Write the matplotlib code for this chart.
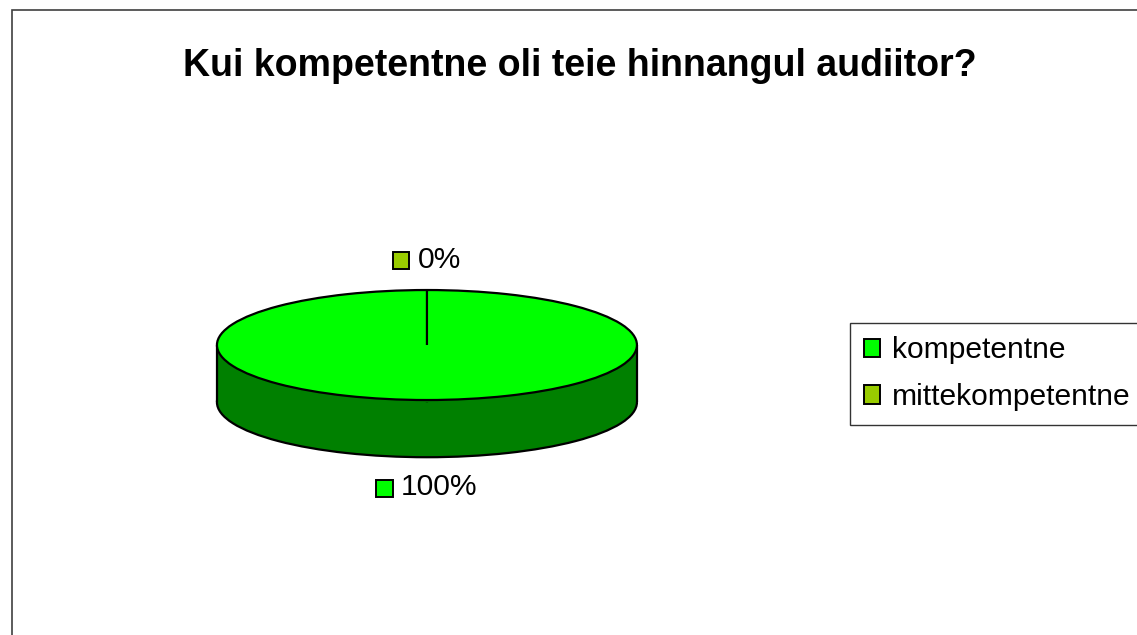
import matplotlib.pyplot as plt
from matplotlib.patches import Rectangle, Patch
from matplotlib.offsetbox import AnnotationBbox, HPacker, TextArea, DrawingArea
import numpy as np

plt.rcParams['font.family'] = ['Liberation Sans', 'DejaVu Sans']

# data
categories = ['kompetentne', 'mittekompetentne']
shares = [100, 0]
top_colors = ['#00FF00', '#99CC00']
side_colors = ['#008000', '#4D6600']
title = 'Kui kompetentne oli teie hinnangul audiitor?'

depth = 1.04   # thickness of the 3D pie in y units
fs = 21.6

fig = plt.figure(figsize=(11.37, 6.35), dpi=100)
ax = fig.add_axes([0.080, 0.1102, 0.591, 0.6063])

# chart area frame (runs off the right and bottom edges)
fig.patches.append(Rectangle((12 / 1137, -0.05), 1.2, 1 - 10 / 635 + 0.05,
                             transform=fig.transFigure, fill=False,
                             edgecolor='#404040', linewidth=1.2, zorder=0))

wp = dict(edgecolor='black', linewidth=1.6)
# bottom face
ax.pie(shares, colors=side_colors, startangle=90, counterclock=False,
       center=(0, -depth), radius=1, wedgeprops=wp)
# side band
ax.fill_between([-1, 1], -depth, 0, color=side_colors[0], zorder=3, linewidth=0)
ax.vlines([-1, 1], -depth, 0, colors='black', linewidth=1.6, zorder=3)
# top face
wedges, _ = ax.pie(shares, colors=top_colors, startangle=90, counterclock=False,
                   center=(0, 0), radius=1, wedgeprops=wp)
for w in wedges:
    w.set_zorder(4)

ax.set_aspect('auto')
ax.set_xlim(-1.6, 1.6)
ax.set_ylim(-4, 3)
ax.axis('off')

# data labels with colour keys
total = sum(shares)
ang = 90.0
for val, col in zip(shares, top_colors):
    span = 360.0 * val / total
    mid = np.deg2rad(ang - span / 2)
    ang -= span
    cy = 0 if np.sin(mid) >= 0 else -depth
    lx = 1.5 * np.cos(mid)
    ly = cy + 1.55 * np.sin(mid)
    da = DrawingArea(13, 13, 0, 0)
    da.add_artist(Rectangle((0, 0), 12, 12, facecolor=col, edgecolor='black', linewidth=1.4))
    ta = TextArea(f'{val:.0f}%', textprops=dict(fontsize=fs))
    box = HPacker(children=[da, ta], align='center', pad=0, sep=5)
    ab = AnnotationBbox(box, (lx, ly), frameon=False, box_alignment=(0.5, 0.5))
    ax.add_artist(ab)

fig.text(580 / 1137, 1 - 66 / 635, title, ha='center', va='center',
         fontsize=27, fontweight='bold')

handles = [Patch(facecolor=c, edgecolor='black', linewidth=1.4) for c in top_colors]
leg = fig.legend(handles, categories, loc='upper left',
                 bbox_to_anchor=(850 / 1137, 1 - 323 / 635), fontsize=fs,
                 frameon=True, fancybox=False, handlelength=0.55, handleheight=0.55,
                 handletextpad=0.4, borderpad=0.45, labelspacing=0.62,
                 borderaxespad=0)
leg.get_frame().set_edgecolor('black')
leg.get_frame().set_linewidth(1.0)

fig.savefig('out.png', dpi=100)
